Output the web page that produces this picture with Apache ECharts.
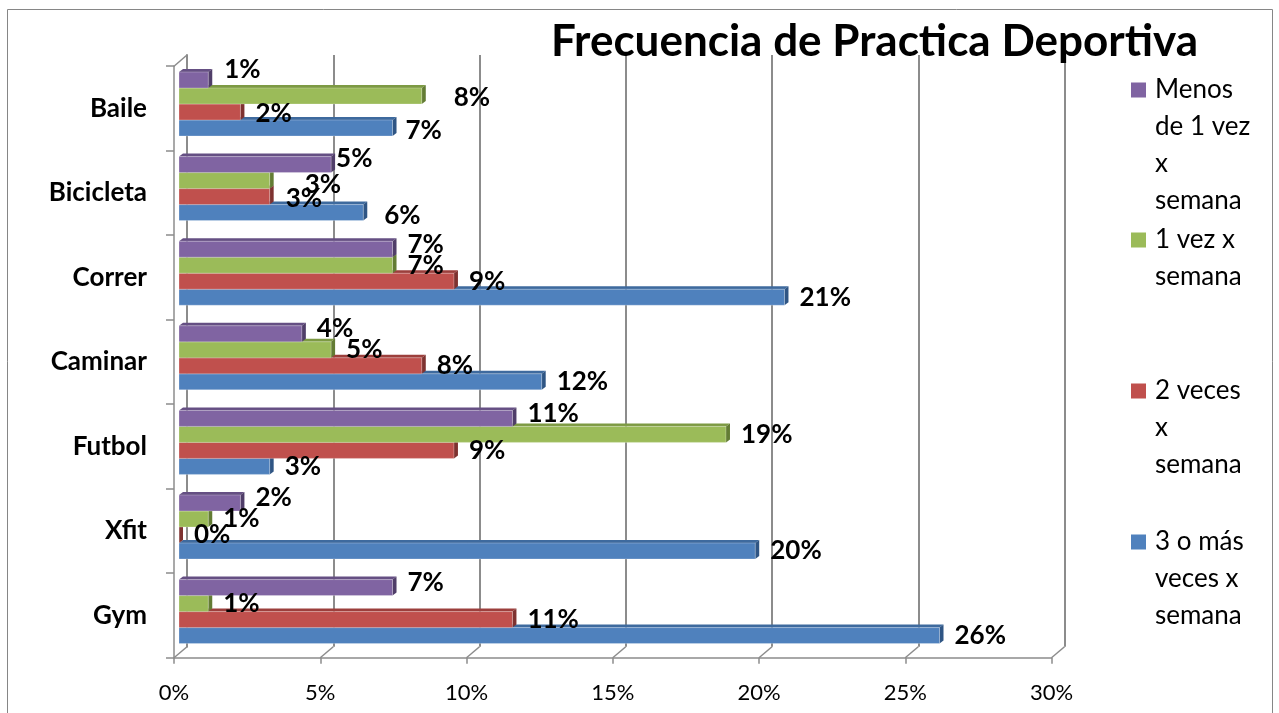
<!DOCTYPE html>
<html>
<head>
<meta charset="utf-8">
<script src="https://cdn.jsdelivr.net/npm/echarts@6/dist/echarts.min.js"></script>
<style>
  html, body { margin: 0; padding: 0; background: #ffffff; }
  #chart { width: 1279px; height: 713px; }
</style>
</head>
<body>
<div id="chart"></div>
<script>
// ---- data (percent of respondents) ----
const categories = ['Gym', 'Xfit', 'Futbol', 'Caminar', 'Correr', 'Bicicleta', 'Baile'];
const seriesNames = ['3 o más veces x semana', '2 veces x semana', '1 vez x semana', 'Menos de 1 vez x semana'];
const tresOMasVeces = [26.0, 19.7, 3.1, 12.4, 20.7, 6.3, 7.3];
const dosVeces      = [11.4, 0.0, 9.4, 8.3, 9.4, 3.1, 2.1];
const unaVez        = [1.0, 1.0, 18.7, 5.2, 7.3, 3.1, 8.3];
const menosDeUnaVez = [7.3, 2.1, 11.4, 4.2, 7.3, 5.2, 1.0];
const xTicks = [0, 5, 10, 15, 20, 25, 30];
const titleText = 'Frecuencia de Practica Deportiva';
const legendLines = {
  'Menos de 1 vez x semana': 'Menos\nde 1 vez\nx\nsemana',
  '1 vez x semana': '1 vez x\nsemana',
  '2 veces x semana': '2 veces\nx\nsemana',
  '3 o más veces x semana': '3 o más\nveces x\nsemana'
};

// ---- styling ----
const FONT = 'Lato, "Open Sans", sans-serif';
const AXIS_GRAY = '#8c8c8c';
const palette = [
  { front: '#4F81BD', top: '#3E6A9E', side: '#2F5584' }, // 3 o más
  { front: '#C0504D', top: '#9C3F3C', side: '#7E3230' }, // 2 veces
  { front: '#9BBB59', top: '#7D9A43', side: '#637C34' }, // 1 vez
  { front: '#8064A2', top: '#654F83', side: '#503E69' }  // menos de 1 vez
];
const seriesValues = [tresOMasVeces, dosVeces, unaVez, menosDeUnaVez];
const BAR_H = 16;       // front face height of each bar
const DEPTH_X = 4;      // 3D depth offset
const DEPTH_Y = 3;
const LABEL_GAP = 15;
// hand-placed data labels: "category|series" -> [dx, dy]
const labelNudge = {
  'Baile|3': [1, -10], 'Baile|2': [17, 2], 'Baile|1': [0, 2], 'Baile|0': [-2, 3],
  'Bicicleta|3': [-10, -6], 'Bicicleta|2': [20, 4], 'Bicicleta|1': [1, 2], 'Bicicleta|0': [6, 3]
};
const labelShiftY = [0, 0, 0, -5];

function bar3D(sIdx) {
  const c = palette[sIdx];
  return function (params, api) {
    const val = api.value(0);
    const cat = api.value(1);
    const p0 = api.coord([0, cat]);
    const p1 = api.coord([val, cat]);
    const yBottom = p0[1] + 2 * BAR_H - sIdx * BAR_H;
    const yTop = yBottom - BAR_H;
    const x0 = p0[0], x1 = p1[0];
    const children = [
      { type: 'polygon', shape: { points: [[x0, yTop], [x0 + DEPTH_X, yTop - DEPTH_Y], [x1 + DEPTH_X, yTop - DEPTH_Y], [x1, yTop]] },
        style: { fill: c.top } },
      { type: 'polygon', shape: { points: [[x1, yTop], [x1 + DEPTH_X, yTop - DEPTH_Y], [x1 + DEPTH_X, yBottom - DEPTH_Y], [x1, yBottom]] },
        style: { fill: c.side } },
      { type: 'rect', shape: { x: x0, y: yTop, width: Math.max(x1 - x0, 0), height: BAR_H },
        style: { fill: c.front, stroke: 'rgba(255,255,255,0.25)', lineWidth: 1 } }
    ];
    const nudge = labelNudge[categories[cat] + '|' + sIdx] || [0, labelShiftY[sIdx]];
    children.push({
      type: 'text', z2: 100,
      style: {
        text: Math.round(val) + '%',
        x: x1 + LABEL_GAP + nudge[0],
        y: (yTop + yBottom) / 2 + nudge[1],
        align: 'left', verticalAlign: 'middle',
        font: 'bold 26px ' + FONT, fill: '#000'
      }
    });
    return { type: 'group', children: children };
  };
}

// legend icon: a square on the first text line of a block n lines tall
const LINE_H = 37;
function legendIcon(n) {
  const h = n * LINE_H;
  const t = LINE_H / 2 - 7.5;
  return 'path://M0,0 M0,' + t + 'L15,' + t + 'L15,' + (t + 15) + 'L0,' + (t + 15) + 'Z M19,' + h;
}
const legendFirstLine = { 'Menos de 1 vez x semana': 90, '1 vez x semana': 240, '2 veces x semana': 391, '3 o más veces x semana': 542 };
const legends = seriesNames.map(function (name) {
  const n = legendLines[name].split('\n').length;
  return {
    data: [name], orient: 'vertical', left: 1131, top: legendFirstLine[name] - LINE_H / 2,
    padding: 0, itemWidth: 19, itemHeight: n * LINE_H, icon: legendIcon(n),
    selectedMode: false,
    formatter: function (nm) { return legendLines[nm]; },
    textStyle: { fontFamily: FONT, fontSize: 26, color: '#000', lineHeight: LINE_H }
  };
});

const SCALE_W = 877.5;
const chart = echarts.init(document.getElementById('chart'));
const option = {
  animation: false,
  backgroundColor: '#ffffff',
  title: {
    text: titleText, left: 546, top: 15,
    textStyle: { fontFamily: FONT, fontWeight: 'bold', fontSize: 44, color: '#000' }
  },
  legend: legends,
  grid: [
    { left: 179, width: SCALE_W, top: 61.7, height: 592.2 },   // bars
    { left: 174, width: SCALE_W, top: 66.2, height: 591.5 },   // front walls / floor edge
    { left: 187, width: SCALE_W, top: 55, height: 591.7 }      // back wall
  ],
  xAxis: [
    { gridIndex: 0, type: 'value', min: 0, max: 30, interval: 5, show: false },
    { gridIndex: 1, type: 'value', min: 0, max: 30, interval: 5,
      axisLine: { show: true, lineStyle: { color: AXIS_GRAY, width: 1.5 } },
      axisTick: { show: true, length: 6, lineStyle: { color: AXIS_GRAY, width: 1.5 } },
      splitLine: { show: false },
      axisLabel: { margin: 24, fontFamily: FONT, fontSize: 22, color: '#000',
        formatter: function (v) { return xTicks.indexOf(v) >= 0 ? v + '%' : ''; } } },
    { gridIndex: 2, type: 'value', min: 0, max: 30, interval: 5,
      axisLine: { show: false }, axisTick: { show: false }, axisLabel: { show: false },
      splitLine: { show: true, lineStyle: { color: AXIS_GRAY, width: 2 } } }
  ],
  yAxis: [
    { gridIndex: 0, type: 'category', data: categories, show: false },
    { gridIndex: 1, type: 'category', data: categories,
      axisLine: { show: true, lineStyle: { color: AXIS_GRAY, width: 1.5 } },
      axisTick: { show: true, length: 8, lineStyle: { color: AXIS_GRAY, width: 1.5 } },
      axisLabel: { margin: 27, fontFamily: FONT, fontWeight: 'bold', fontSize: 26, color: '#000',
        padding: [6, 0, 0, 0] } },
    { gridIndex: 2, type: 'category', data: categories,
      axisLine: { show: true, lineStyle: { color: AXIS_GRAY, width: 2 } },
      axisTick: { show: false }, axisLabel: { show: false } }
  ],
  series: seriesValues.map(function (vals, k) {
    return {
      name: seriesNames[k], type: 'custom', xAxisIndex: 0, yAxisIndex: 0,
      itemStyle: { color: palette[k].front },
      encode: { x: 0, y: 1 },
      renderItem: bar3D(k),
      data: vals.map(function (v, i) { return [v, i]; })
    };
  })
};
chart.setOption(option);

// 3D edges joining the front floor edge / left wall to the back wall
const lines = [];
xTicks.forEach(function (v) {
  const f = chart.convertToPixel({ xAxisIndex: 1 }, v);
  const b = chart.convertToPixel({ xAxisIndex: 2 }, v);
  lines.push([f, 657.7, b, 646.7]);
});
lines.push([174, 66.2, 187, 55]);
chart.setOption({
  graphic: lines.map(function (l) {
    return { type: 'line', silent: true, z: 1,
      shape: { x1: l[0], y1: l[1], x2: l[2], y2: l[3] },
      style: { stroke: AXIS_GRAY, lineWidth: 1.5 } };
  }).concat([{
    type: 'rect', silent: true, z: 0,
    shape: { x: 7.5, y: 9.5, width: 1265, height: 720 },
    style: { fill: 'none', stroke: '#868686', lineWidth: 1 }
  }])
});
</script>
</body>
</html>
